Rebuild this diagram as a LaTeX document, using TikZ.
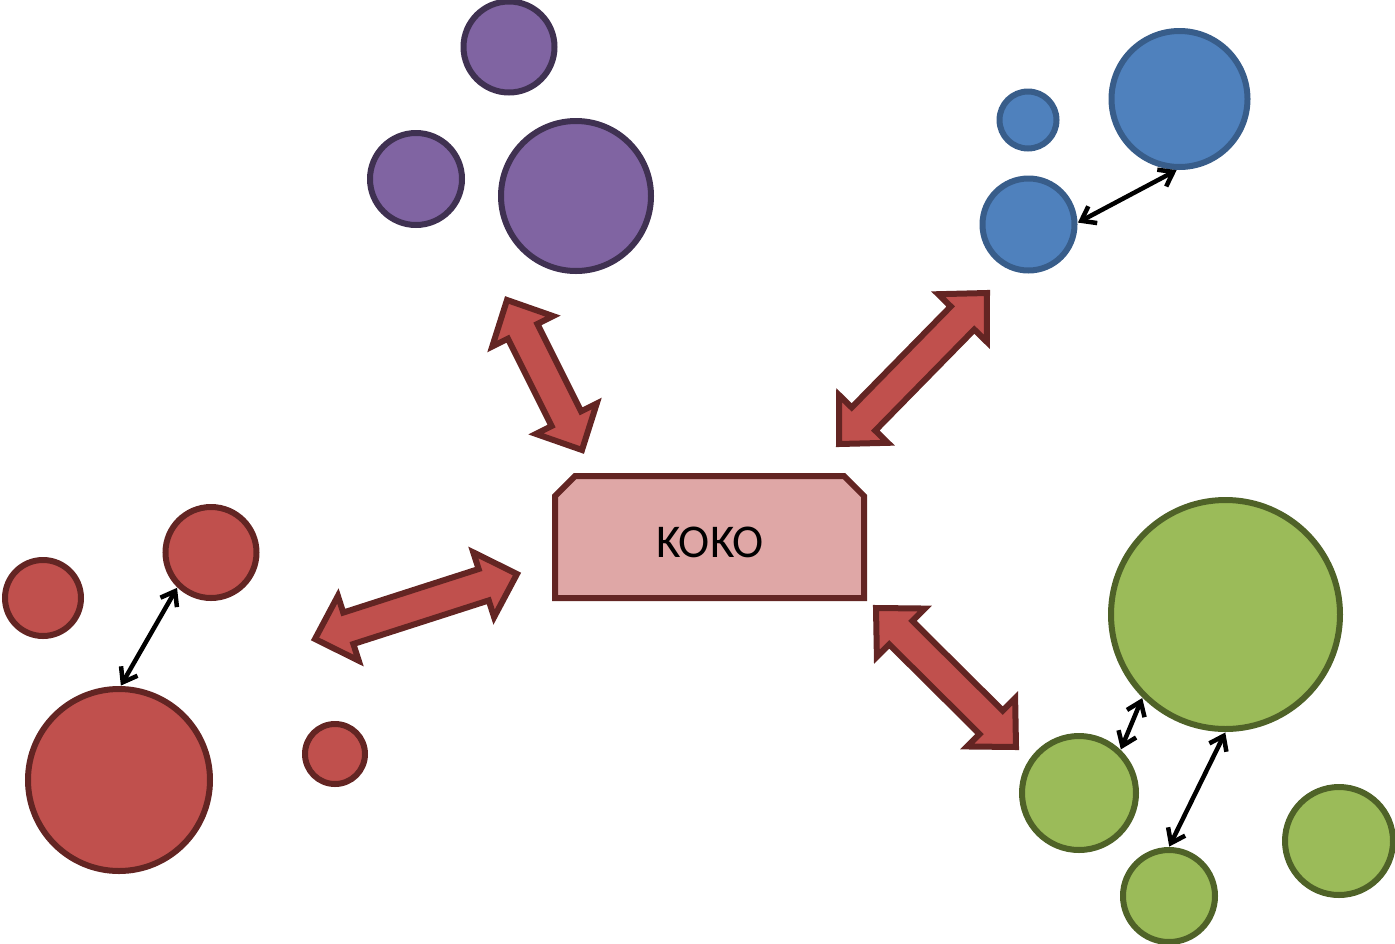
\documentclass[tikz,border=0pt]{standalone}
\usepackage{fontspec}
\setmainfont{Carlito}
\usetikzlibrary{calc,arrows.meta}
\definecolor{pfill}{HTML}{8064A2}\definecolor{pline}{HTML}{3F3151}
\definecolor{bfill}{HTML}{4F81BD}\definecolor{bline}{HTML}{385D8A}
\definecolor{rfill}{HTML}{C0504D}\definecolor{rline}{HTML}{632523}
\definecolor{gfill}{HTML}{9BBB59}\definecolor{gline}{HTML}{4F6228}
\definecolor{boxfill}{HTML}{DFA7A6}
\tikzset{
  blob/.style={circle,inner sep=0pt,line width=6pt,minimum size=#1},
  purp/.style={blob=#1,fill=pfill,draw=pline},
  blu/.style={blob=#1,fill=bfill,draw=bline},
  redc/.style={blob=#1,fill=rfill,draw=rline},
  grn/.style={blob=#1,fill=gfill,draw=gline},
  bigarrow/.style={fill=rfill,draw=rline,line width=6pt,line join=miter},
  link/.style={line width=4.5pt,black,{Straight Barb[length=13pt,width=19pt]}-{Straight Barb[length=13pt,width=19pt]},shorten <=0.5pt,shorten >=0.5pt},
  kokobox/.style={fill=boxfill,draw=rline,line width=6pt}
}
\newcommand{\dblarrow}[2]{%
  \coordinate (pa) at ($(#1)!35pt!(#2)$);
  \coordinate (pb) at ($(#2)!35pt!(#1)$);
  \draw[bigarrow] (#1) -- ($(pa)!34pt!90:(#2)$) -- ($(pa)!16.5pt!90:(#2)$)
    -- ($(pb)!16.5pt!-90:(#1)$) -- ($(pb)!34pt!-90:(#1)$) -- (#2)
    -- ($(pb)!34pt!90:(#1)$) -- ($(pb)!16.5pt!90:(#1)$)
    -- ($(pa)!16.5pt!-90:(#2)$) -- ($(pa)!34pt!-90:(#2)$) -- cycle;}
\begin{document}
\begin{tikzpicture}[x=1pt,y=-1pt]
\useasboundingbox (0,0) rectangle (1395,943);
\clip (0,0) rectangle (1395,943);
% purple group
\node[purp=91pt] (P1) at (509,47) {};
\node[purp=92pt] (P2) at (416,179) {};
\node[purp=150pt] (P3) at (576,196) {};
% blue group
\node[blu=57pt] (B1) at (1028,120) {};
\node[blu=136pt] (B2) at (1179.5,99) {};
\node[blu=92pt] (B3) at (1028.5,224.5) {};
% red group
\node[redc=76pt] (R1) at (43,598) {};
\node[redc=91pt] (R2) at (211,552.5) {};
\node[redc=182pt] (R3) at (119,780) {};
\node[redc=60pt] (R4) at (335,754) {};
% green group
\node[grn=229pt] (G1) at (1225.5,614.5) {};
\node[grn=114pt] (G2) at (1079,793) {};
\node[grn=92pt] (G3) at (1169,896) {};
\node[grn=108pt] (G4) at (1339,841) {};
% small links
\draw[link] (B2.268) -- (B3.2);
\draw[link] (R2.226) -- (R3.89);
\draw[link] (G1.225) -- (G2.46);
\draw[link] (G1.270) -- (G3.90);
% central box
\draw[kokobox] (555,598) -- (555,496) -- (575,476) -- (844,476) -- (864,496) -- (864,598) -- cycle;
\node[inner sep=0pt,font=\fontsize{47}{56}\selectfont] (koko) at (710,542.5) {KOKO};
% big arrows
\coordinate (a1s) at (507,300); \coordinate (a1e) at (582,450);
\coordinate (a2s) at (987,293); \coordinate (a2e) at (839,444);
\coordinate (a3s) at (876,608); \coordinate (a3e) at (1016,747);
\coordinate (a4s) at (315,639); \coordinate (a4e) at (517,574);
\dblarrow{a1s}{a1e}
\dblarrow{a2s}{a2e}
\dblarrow{a3s}{a3e}
\dblarrow{a4s}{a4e}
\end{tikzpicture}
\end{document}
